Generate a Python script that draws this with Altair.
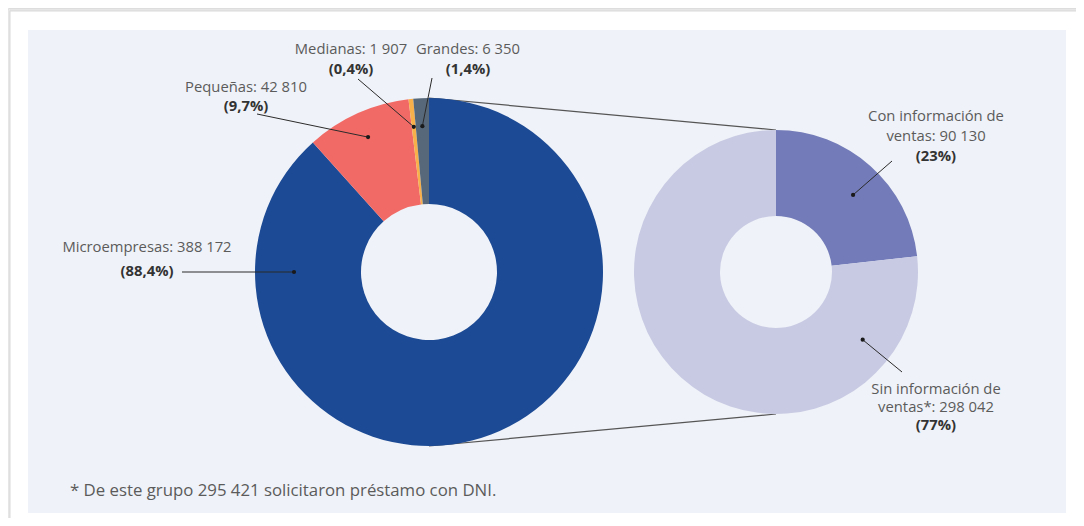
import math
import altair as alt
import pandas as pd

# ---------------- data ----------------
left_cats = ["Microempresas", "Pequeñas", "Medianas", "Grandes"]
left_values = [388172, 42810, 1907, 6350]
left_pcts = ["(88,4%)", "(9,7%)", "(0,4%)", "(1,4%)"]
left_names = ["Microempresas: 388 172", "Pequeñas: 42 810", "Medianas: 1 907", "Grandes: 6 350"]

right_cats = ["Con información de ventas", "Sin información de ventas"]
right_values = [90130, 298042]
right_pcts = ["(23%)", "(77%)"]
right_names = [["Con información de", "ventas: 90 130"], ["Sin información de", "ventas*: 298 042"]]

footnote = "* De este grupo 295 421 solicitaron préstamo con DNI."

# ---------------- style / layout ----------------
W, H = 1068, 510
left_colors = ["#1c4a94", "#f26a66", "#f8b04a", "#56687a"]
right_colors = ["#737cb8", "#c8cae3"]
LC = (421, 264, 68, 174)   # cx, cy, inner, outer
RC = (768, 264, 56, 142)
FONT = "Open Sans"
TXT = "#5b5b5b"
BOLD = "#333333"

# per-slice leader anchors: (angle override or None, radius), label centre x, first line y, line gap, leader start
left_layout = [
    (270, 135, 139, 240, 24, (174, 264)),
    (None, 148, 238, 80, 19, (249, 106)),
    (None, 146, 343, 42, 20, (350, 71)),
    (None, 146, 460, 42, 20, (424, 70)),
]
right_layout = [
    (45, 109, 928, 109, 20, (884, 153)),
    (128, 110, 928, 382, 18, (894, 364)),
]


def mid_angles(values):
    tot = sum(values)
    out, acc = [], 0
    for v in values:
        out.append((acc + v / 2) / tot * 360)
        acc += v
    return out


def polar(c, ang, r):
    a = math.radians(ang)
    return c[0] + r * math.sin(a), c[1] - r * math.cos(a)


def build_annotations(center, values, layout, name_lines, pcts):
    mids = mid_angles(values)
    leaders, dots, normal, bold = [], [], [], []
    for i, (ov, r, tx, ty, gap, start) in enumerate(layout):
        ang = ov if ov is not None else mids[i]
        dx, dy = polar(center, ang, r)
        dots.append({"x": dx, "y": dy})
        leaders.append({"x": start[0], "y": start[1], "x2": dx, "y2": dy})
        lines = name_lines[i] if isinstance(name_lines[i], list) else [name_lines[i]]
        for j, t in enumerate(lines):
            normal.append({"x": tx, "y": ty + j * gap, "t": t})
        bold.append({"x": tx, "y": ty + len(lines) * gap, "t": pcts[i]})
    return leaders, dots, normal, bold


la = build_annotations(LC, left_values, left_layout, left_names, left_pcts)
ra = build_annotations(RC, right_values, right_layout, right_names, right_pcts)
leaders = pd.DataFrame(la[0] + ra[0])
dots = pd.DataFrame(la[1] + ra[1])
normal = pd.DataFrame(la[2] + ra[2])
bold = pd.DataFrame(la[3] + ra[3])

one = pd.DataFrame({"a": [0]})

shadow = alt.Chart(one).mark_rect(fill="#e6e6e6", cornerRadius=2).encode(
    x=alt.value(0), x2=alt.value(1074), y=alt.value(1), y2=alt.value(540))
card = alt.Chart(one).mark_rect(fill="white", stroke="#d9d9d9", strokeWidth=1).encode(
    x=alt.value(2), x2=alt.value(1072), y=alt.value(3), y2=alt.value(540))
panel = alt.Chart(one).mark_rect(fill="#eff2f8").encode(
    x=alt.value(20), x2=alt.value(1058), y=alt.value(22), y2=alt.value(505))

connect = pd.DataFrame({
    "x": [LC[0], LC[0]], "y": [LC[1] - LC[3], LC[1] + LC[3]],
    "x2": [RC[0], RC[0]], "y2": [RC[1] - RC[3], RC[1] + RC[3]],
})
conn = alt.Chart(connect).mark_rule(color="#555555", strokeWidth=1.2).encode(
    x=alt.X("x:Q", scale=None), y=alt.Y("y:Q", scale=None),
    x2="x2:Q", y2="y2:Q")

ldf = pd.DataFrame({"cat": left_cats, "v": left_values, "i": range(len(left_cats))})
rdf = pd.DataFrame({"cat": right_cats, "v": right_values, "i": range(len(right_cats))})

left_arc = alt.Chart(ldf).mark_arc(innerRadius=LC[2], outerRadius=LC[3]).encode(
    theta=alt.Theta("v:Q", stack=True),
    order=alt.Order("i:Q"),
    color=alt.Color("cat:N", scale=alt.Scale(domain=left_cats, range=left_colors), legend=None),
    x=alt.value(LC[0]), y=alt.value(LC[1]))

right_arc = alt.Chart(rdf).mark_arc(innerRadius=RC[2], outerRadius=RC[3]).encode(
    theta=alt.Theta("v:Q", stack=True),
    order=alt.Order("i:Q"),
    color=alt.Color("cat:N", scale=alt.Scale(domain=right_cats, range=right_colors), legend=None),
    x=alt.value(RC[0]), y=alt.value(RC[1]))

arcs = alt.layer(left_arc, right_arc).resolve_scale(theta="independent", color="independent")

lead = alt.Chart(leaders).mark_rule(color="#2b2b2b", strokeWidth=1).encode(
    x=alt.X("x:Q", scale=None), y=alt.Y("y:Q", scale=None), x2="x2:Q", y2="y2:Q")
dot = alt.Chart(dots).mark_circle(color="#1a1a1a", size=18, opacity=1).encode(
    x=alt.X("x:Q", scale=None), y=alt.Y("y:Q", scale=None))
t_norm = alt.Chart(normal).mark_text(font=FONT, fontSize=14.8, color=TXT, align="center", baseline="middle").encode(
    x=alt.X("x:Q", scale=None), y=alt.Y("y:Q", scale=None), text="t:N")
t_bold = alt.Chart(bold).mark_text(font=FONT, fontSize=14.8, fontWeight="bold", color=BOLD, align="center", baseline="middle").encode(
    x=alt.X("x:Q", scale=None), y=alt.Y("y:Q", scale=None), text="t:N")
foot = alt.Chart(pd.DataFrame({"t": [footnote]})).mark_text(
    font=FONT, fontSize=16.8, color=TXT, align="left", baseline="middle").encode(
    x=alt.value(62), y=alt.value(483), text="t:N")

chart = alt.layer(shadow, card, panel, conn, arcs, lead, dot, t_norm, t_bold, foot).properties(
    width=W, height=H, padding=0, autosize=alt.AutoSizeParams(type="none")
).configure_view(stroke=None).configure(background="white")

chart.save("out.html", embed_options={"renderer": "svg", "actions": False})
